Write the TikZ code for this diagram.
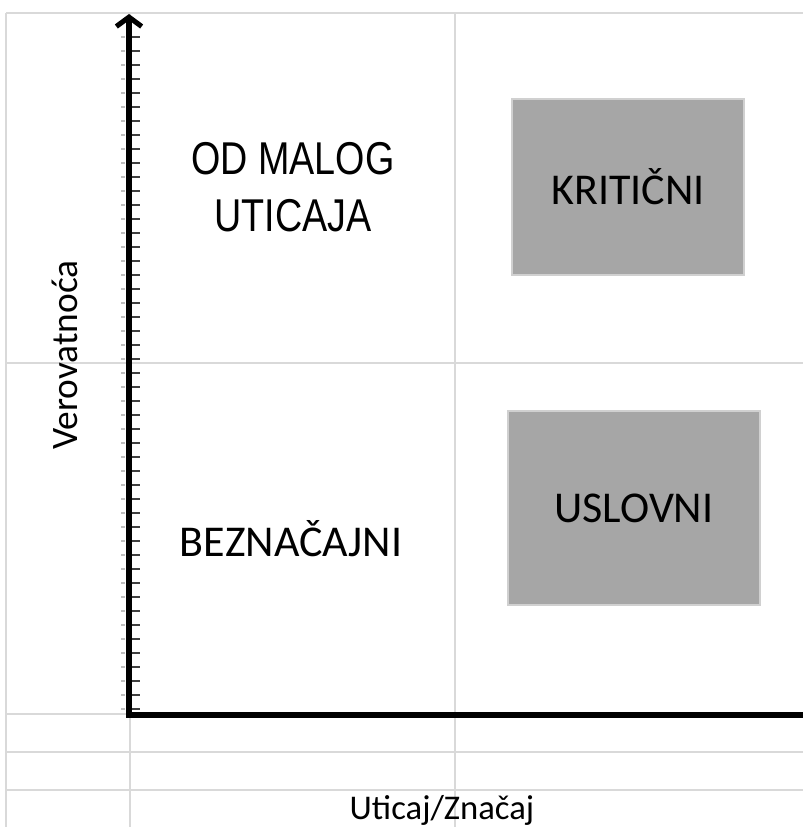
\documentclass[tikz,border=0pt]{standalone}
\usepackage{fontspec}
\setmainfont{Carlito}
\newfontfamily\narrowfont[FakeStretch=0.82]{Liberation Sans}
\usetikzlibrary{arrows.meta}
\definecolor{gridgray}{HTML}{D9D9D9}
\definecolor{boxgray}{HTML}{A6A6A6}
\definecolor{boxline}{HTML}{D0D0D0}

\begin{document}
\begin{tikzpicture}[
            x=0.75pt, y=-0.75pt,
            gridline/.style={gridgray, line width=1.5pt},
            axis/.style={line width=3.8pt},
            tick/.style={black!75, line width=1.4pt},
            zone/.style={fill=boxgray, draw=boxline, line width=1.1pt},
            label/.style={font=\fontsize{33}{40}\selectfont, inner sep=0pt}
        ]
        \useasboundingbox (0, 0) rectangle (803, 827);

        % mreza
        \foreach \y in {13, 363, 714, 752, 790} {
                \draw[gridline] (6, \y) -- (803, \y);
            }
        \foreach \x in {6, 130, 455} {
                \draw[gridline] (\x, 13) -- (\x, 827);
            }

        % kvadranti
        \node[zone, minimum width=174pt, minimum height=132pt, label] (kriticni) at (628, 187) {KRITIČNI};
        \node[zone, minimum width=189pt, minimum height=145.5pt, label] (uslovni) at (634, 508) {USLOVNI};
        \node[label, anchor=north, align=center, font=\narrowfont\fontsize{34.5}{42.75}\selectfont] (malog) at (293, 142) {OD MALOG\\UTICAJA};
        \node[label, anchor=base] (beznacajni) at (291, 556) {BEZNAČAJNI};

        % ose
        \coordinate (o) at (129, 715);
        \coordinate (ytop) at (129, 14);
        \coordinate (xend) at (803, 715);
        \foreach \i in {0, ..., 48} {
                \draw[tick] (129, 709 - 14*\i) -- (140, 709 - 14*\i);
                \draw[black!25, line width=1pt] (121, 709 - 14*\i) -- (125, 709 - 14*\i);
            }
        \draw[axis, -{Straight Barb[length=7pt, width=19pt]}] (o) -- (ytop);
        \draw[axis] ([xshift=-1.9pt]o) -- (xend);

        % nazivi osa
        \node[rotate=90, anchor=base, font=\fontsize{28}{32}\selectfont, inner sep=0pt] (verovatnoca) at (77, 355) {Verovatnoća};
        \node[anchor=base, font=\fontsize{26}{30}\selectfont, inner sep=0pt] (uticaj) at (442, 819) {Uticaj/Značaj};
    \end{tikzpicture}
\end{document}
